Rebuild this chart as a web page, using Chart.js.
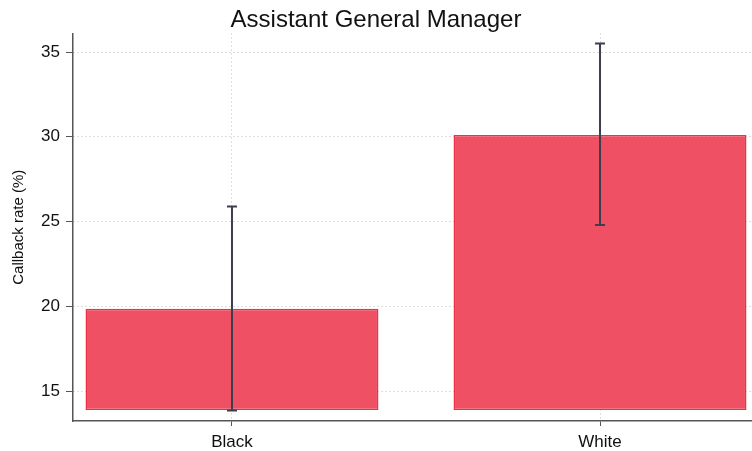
<!DOCTYPE html>
<html lang="en">
<head>
    <meta charset="UTF-8">
    <title>Assistant General Manager</title>
    <script src="https://cdn.jsdelivr.net/npm/chart.js"></script>
    <style>
        html, body { margin: 0; padding: 0; background: #fff; }
    </style>
</head>
<body>
    <canvas id="myChart" width="752" height="451"></canvas>
    <script>
        // data
        const categories = ['Black', 'White'];
        const barBase = [13.88, 13.88];
        const callbackRate = [19.85, 30.1];
        const ciLower = [13.85, 24.8];
        const ciUpper = [25.88, 35.5];
        const yTicks = [15, 20, 25, 30, 35];

        const axisColor = '#555555';
        const gridColor = '#bdbdbd';

        // error bars drawn on top of the bars
        const errorBars = {
            id: 'errorBars',
            afterDatasetsDraw(chart) {
                const ctx = chart.ctx;
                const xs = chart.scales.x;
                const ys = chart.scales.y;
                ctx.save();
                ctx.strokeStyle = '#3b3f4e';
                ctx.lineWidth = 2;
                categories.forEach(function (c, i) {
                    const x = xs.getPixelForValue(i);
                    const y1 = ys.getPixelForValue(ciLower[i]);
                    const y2 = ys.getPixelForValue(ciUpper[i]);
                    ctx.beginPath();
                    ctx.moveTo(x, y1);
                    ctx.lineTo(x, y2);
                    ctx.moveTo(x - 5, y1);
                    ctx.lineTo(x + 5, y1);
                    ctx.moveTo(x - 5, y2);
                    ctx.lineTo(x + 5, y2);
                    ctx.stroke();
                });
                ctx.restore();
            }
        };

        const ctx = document.getElementById('myChart');
        const mychart = new Chart(ctx, {
            type: 'bar',
            data: {
                datasets: [{
                    label: 'Callback rate (%)',
                    data: categories.map(function (c, i) {
                        return { x: i, y: [barBase[i], callbackRate[i]] };
                    }),
                    backgroundColor: 'rgb(240, 80, 100)',
                    borderColor: 'rgb(236, 48, 72)',
                    borderWidth: 1.5,
                    borderSkipped: false,
                    categoryPercentage: 1,
                    barPercentage: 0.796
                }]
            },
            options: {
                responsive: false,
                animation: false,
                layout: { padding: 0 },
                plugins: {
                    legend: { display: false },
                    tooltip: { enabled: false },
                    title: {
                        display: true,
                        text: 'Assistant General Manager',
                        color: '#111',
                        font: { family: 'Liberation Sans', size: 24, weight: 'normal', lineHeight: 1.1 },
                        padding: { top: 7, bottom: 0 }
                    }
                },
                scales: {
                    x: {
                        type: 'linear',
                        offset: false,
                        min: -0.432,
                        max: 1.413,
                        afterBuildTicks: function (axis) {
                            axis.ticks = categories.map(function (c, i) { return { value: i }; });
                        },
                        afterFit: function (axis) { axis.height = 30; },
                        ticks: {
                            callback: function (v) { return categories[v]; },
                            color: '#111',
                            font: { family: 'Liberation Sans', size: 17 },
                            padding: 6,
                            maxRotation: 0
                        },
                        grid: {
                            offset: false,
                            color: gridColor,
                            tickColor: axisColor,
                            tickLength: 5,
                            tickWidth: 1
                        },
                        border: { color: axisColor, width: 1.5, dash: [1, 3] }
                    },
                    y: {
                        min: 13.23,
                        max: 36.1,
                        afterBuildTicks: function (axis) {
                            axis.ticks = yTicks.map(function (v) { return { value: v }; });
                        },
                        afterFit: function (axis) { axis.width = 73; },
                        title: {
                            display: true,
                            text: 'Callback rate (%)',
                            color: '#111',
                            font: { family: 'Liberation Sans', size: 15 },
                            padding: { top: 10, bottom: 0 }
                        },
                        ticks: {
                            color: '#111',
                            font: { family: 'Liberation Sans', size: 17 },
                            padding: 6
                        },
                        grid: {
                            color: gridColor,
                            tickColor: axisColor,
                            tickLength: 7,
                            tickWidth: 1
                        },
                        border: { color: axisColor, width: 1.5, dash: [1, 3] }
                    }
                }
            },
            plugins: [errorBars]
        });
    </script>
</body>
</html>
